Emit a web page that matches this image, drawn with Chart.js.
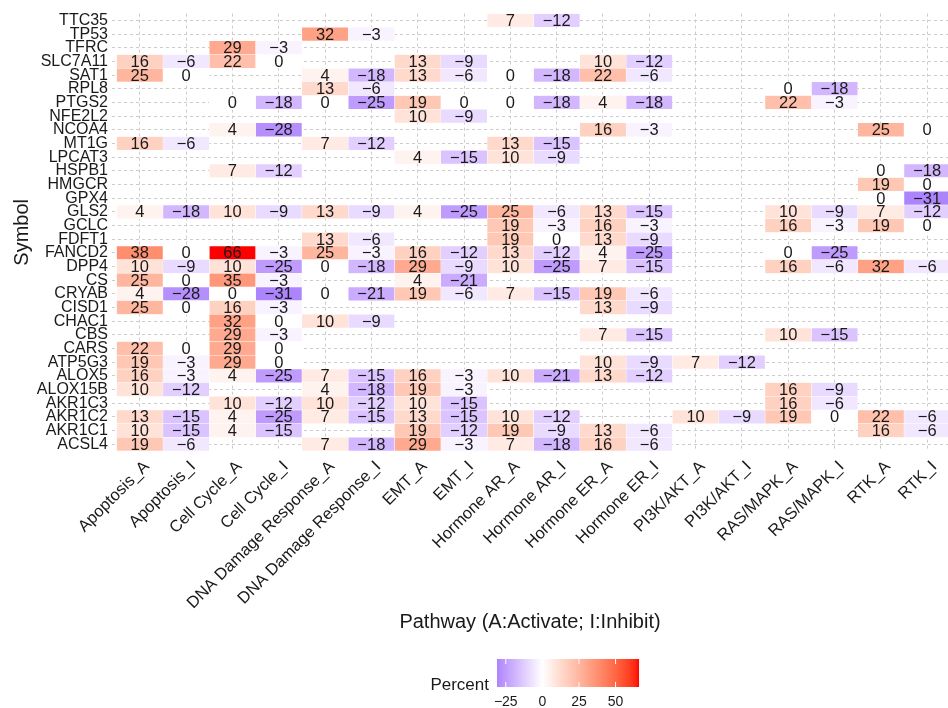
<!DOCTYPE html>
<html>
<head>
<meta charset="utf-8">
<script src="https://cdn.jsdelivr.net/npm/chart.js@4.4.1/dist/chart.umd.min.js"></script>
<style>
  html, body { margin: 0; padding: 0; background: #fff; }
  #wrap { width: 948px; height: 708px; }
</style>
</head>
<body>
<div id="wrap"><canvas id="heat"></canvas></div>
<script>
const pathways = [
  "Apoptosis_A", "Apoptosis_I", "Cell Cycle_A", "Cell Cycle_I",
  "DNA Damage Response_A", "DNA Damage Response_I", "EMT_A", "EMT_I",
  "Hormone AR_A", "Hormone AR_I", "Hormone ER_A", "Hormone ER_I",
  "PI3K/AKT_A", "PI3K/AKT_I", "RAS/MAPK_A", "RAS/MAPK_I", "RTK_A", "RTK_I"
];
const genes = [
  "TTC35", "TP53", "TFRC", "SLC7A11", "SAT1", "RPL8", "PTGS2", "NFE2L2",
  "NCOA4", "MT1G", "LPCAT3", "HSPB1", "HMGCR", "GPX4", "GLS2", "GCLC",
  "FDFT1", "FANCD2", "DPP4", "CS", "CRYAB", "CISD1", "CHAC1", "CBS",
  "CARS", "ATP5G3", "ALOX5", "ALOX15B", "AKR1C3", "AKR1C2", "AKR1C1", "ACSL4"
];

// percent per gene, one value per pathway column (_ = no tile)
const _ = null;
const TTC35   = [_, _, _, _, _, _, _, _, 7, -12, _, _, _, _, _, _, _, _];
const TP53    = [_, _, _, _, 32, -3, _, _, _, _, _, _, _, _, _, _, _, _];
const TFRC    = [_, _, 29, -3, _, _, _, _, _, _, _, _, _, _, _, _, _, _];
const SLC7A11 = [16, -6, 22, 0, _, _, 13, -9, _, _, 10, -12, _, _, _, _, _, _];
const SAT1    = [25, 0, _, _, 4, -18, 13, -6, 0, -18, 22, -6, _, _, _, _, _, _];
const RPL8    = [_, _, _, _, 13, -6, _, _, _, _, _, _, _, _, 0, -18, _, _];
const PTGS2   = [_, _, 0, -18, 0, -25, 19, 0, 0, -18, 4, -18, _, _, 22, -3, _, _];
const NFE2L2  = [_, _, _, _, _, _, 10, -9, _, _, _, _, _, _, _, _, _, _];
const NCOA4   = [_, _, 4, -28, _, _, _, _, _, _, 16, -3, _, _, _, _, 25, 0];
const MT1G    = [16, -6, _, _, 7, -12, _, _, 13, -15, _, _, _, _, _, _, _, _];
const LPCAT3  = [_, _, _, _, _, _, 4, -15, 10, -9, _, _, _, _, _, _, _, _];
const HSPB1   = [_, _, 7, -12, _, _, _, _, _, _, _, _, _, _, _, _, 0, -18];
const HMGCR   = [_, _, _, _, _, _, _, _, _, _, _, _, _, _, _, _, 19, 0];
const GPX4    = [_, _, _, _, _, _, _, _, _, _, _, _, _, _, _, _, 0, -31];
const GLS2    = [4, -18, 10, -9, 13, -9, 4, -25, 25, -6, 13, -15, _, _, 10, -9, 7, -12];
const GCLC    = [_, _, _, _, _, _, _, _, 19, -3, 16, -3, _, _, 16, -3, 19, 0];
const FDFT1   = [_, _, _, _, 13, -6, _, _, 19, 0, 13, -9, _, _, _, _, _, _];
const FANCD2  = [38, 0, 66, -3, 25, -3, 16, -12, 13, -12, 4, -25, _, _, 0, -25, _, _];
const DPP4    = [10, -9, 10, -25, 0, -18, 29, -9, 10, -25, 7, -15, _, _, 16, -6, 32, -6];
const CS      = [25, 0, 35, -3, _, _, 4, -21, _, _, _, _, _, _, _, _, _, _];
const CRYAB   = [4, -28, 0, -31, 0, -21, 19, -6, 7, -15, 19, -6, _, _, _, _, _, _];
const CISD1   = [25, 0, 16, -3, _, _, _, _, _, _, 13, -9, _, _, _, _, _, _];
const CHAC1   = [_, _, 32, 0, 10, -9, _, _, _, _, _, _, _, _, _, _, _, _];
const CBS     = [_, _, 29, -3, _, _, _, _, _, _, 7, -15, _, _, 10, -15, _, _];
const CARS    = [22, 0, 29, 0, _, _, _, _, _, _, _, _, _, _, _, _, _, _];
const ATP5G3  = [19, -3, 29, 0, _, _, _, _, _, _, 10, -9, 7, -12, _, _, _, _];
const ALOX5   = [16, -3, 4, -25, 7, -15, 16, -3, 10, -21, 13, -12, _, _, _, _, _, _];
const ALOX15B = [10, -12, _, _, 4, -18, 19, -3, _, _, _, _, _, _, 16, -9, _, _];
const AKR1C3  = [_, _, 10, -12, 10, -12, 10, -15, _, _, _, _, _, _, 16, -6, _, _];
const AKR1C2  = [13, -15, 4, -25, 7, -15, 13, -15, 10, -12, _, _, 10, -9, 19, 0, 22, -6];
const AKR1C1  = [10, -15, 4, -15, _, _, 19, -12, 19, -9, 13, -6, _, _, _, _, 16, -6];
const ACSL4   = [19, -6, _, _, 7, -18, 29, -3, 7, -18, 16, -6, _, _, _, _, _, _];

const geneValues = [
  TTC35, TP53, TFRC, SLC7A11, SAT1, RPL8, PTGS2, NFE2L2, NCOA4, MT1G, LPCAT3,
  HSPB1, HMGCR, GPX4, GLS2, GCLC, FDFT1, FANCD2, DPP4, CS, CRYAB, CISD1, CHAC1,
  CBS, CARS, ATP5G3, ALOX5, ALOX15B, AKR1C3, AKR1C2, AKR1C1, ACSL4
];

const legendTicks = [-25, 0, 25, 50];
const legendMin = -31;
const legendMax = 66;

/* colour: white mid, purple low, red high, mixed in Lab like ggplot */
function toLin(c) { c /= 255; return c <= 0.04045 ? c / 12.92 : Math.pow((c + 0.055) / 1.055, 2.4); }
function toSrgb(c) {
  c = Math.max(0, Math.min(1, c));
  return Math.round(255 * (c <= 0.0031308 ? 12.92 * c : 1.055 * Math.pow(c, 1 / 2.4) - 0.055));
}
function rgbToLab(rgb) {
  const r = toLin(rgb[0]), g = toLin(rgb[1]), b = toLin(rgb[2]);
  const X = (0.4124 * r + 0.3576 * g + 0.1805 * b) / 0.95047;
  const Y = 0.2126 * r + 0.7152 * g + 0.0722 * b;
  const Z = (0.0193 * r + 0.1192 * g + 0.9505 * b) / 1.08883;
  const f = t => t > 0.008856 ? Math.cbrt(t) : 7.787 * t + 16 / 116;
  return [116 * f(Y) - 16, 500 * (f(X) - f(Y)), 200 * (f(Y) - f(Z))];
}
function labToRgb(lab) {
  const fy = (lab[0] + 16) / 116, fx = fy + lab[1] / 500, fz = fy - lab[2] / 200;
  const inv = t => t > 0.206893 ? t * t * t : (t - 16 / 116) / 7.787;
  const X = inv(fx) * 0.95047, Y = inv(fy), Z = inv(fz) * 1.08883;
  const r = 3.2406 * X - 1.5372 * Y - 0.4986 * Z;
  const g = -0.9689 * X + 1.8758 * Y + 0.0415 * Z;
  const b = 0.0557 * X - 0.2040 * Y + 1.0570 * Z;
  return [toSrgb(r), toSrgb(g), toSrgb(b)];
}
const labWhite = rgbToLab([255, 255, 255]);
const labLow = rgbToLab([172, 132, 252]);   // colour at -31
const labHigh = rgbToLab([255, 0, 0]);      // colour at 66

function fillFor(v) {
  let end, t;
  if (v < 0) { end = labLow; t = Math.min(1, -v / -legendMin); }
  else { end = labHigh; t = Math.min(1, v / legendMax); }
  const lab = labWhite.map((w, k) => w + (end[k] - w) * t);
  const c = labToRgb(lab);
  return "rgb(" + c[0] + "," + c[1] + "," + c[2] + ")";
}

function fmt(v) { return v < 0 ? "\u2212" + Math.abs(v) : String(v); }

const FONT = '"Liberation Sans", Arial, sans-serif';
const INK = "#1a1a1a";

const datasets = pathways.map((p, j) => ({
  label: p,
  data: geneValues.map(r => (r[j] === null ? null : [j, j + 1])),
  values: geneValues.map(r => r[j]),
  backgroundColor: geneValues.map(r => (r[j] === null ? "rgba(0,0,0,0)" : fillFor(r[j]))),
  borderColor: "rgba(255,255,255,0.7)",
  borderWidth: 0.5,
  borderSkipped: false,
  grouped: false,
  barPercentage: 1,
  categoryPercentage: 1
}));

/* start plugins */
const whiteBg = {
  id: "whiteBg",
  beforeDraw(chart) {
    const ctx = chart.ctx;
    ctx.save();
    ctx.fillStyle = "#fff";
    ctx.fillRect(0, 0, chart.width, chart.height);
    ctx.restore();
  }
};

const cellLabels = {
  id: "cellLabels",
  afterDatasetsDraw(chart) {
    const ctx = chart.ctx;
    ctx.save();
    ctx.font = "16.5px " + FONT;
    ctx.fillStyle = INK;
    ctx.textAlign = "center";
    ctx.textBaseline = "middle";
    chart.data.datasets.forEach((ds, di) => {
      const meta = chart.getDatasetMeta(di);
      meta.data.forEach((el, i) => {
        const v = ds.values[i];
        if (v === null) return;
        const p = el.getProps(["x", "base", "y"], true);
        ctx.fillText(fmt(v), (p.x + p.base) / 2, p.y + 1);
      });
    });
    ctx.restore();
  }
};

const colourBar = {
  id: "colourBar",
  afterDraw(chart) {
    const ctx = chart.ctx;
    const x0 = 497, x1 = 639, y0 = 659, y1 = 687;
    ctx.save();
    const grad = ctx.createLinearGradient(x0, 0, x1, 0);
    for (let k = 0; k <= 60; k++) {
      grad.addColorStop(k / 60, fillFor(legendMin + (k / 60) * (legendMax - legendMin)));
    }
    ctx.fillStyle = grad;
    ctx.fillRect(x0, y0, x1 - x0, y1 - y0);

    ctx.strokeStyle = "#fff";
    ctx.lineWidth = 1;
    ctx.font = "14px " + FONT;
    ctx.fillStyle = INK;
    ctx.textAlign = "center";
    ctx.textBaseline = "middle";
    legendTicks.forEach(t => {
      const px = x0 + ((t - legendMin) / (legendMax - legendMin)) * (x1 - x0);
      ctx.beginPath();
      ctx.moveTo(px, y0); ctx.lineTo(px, y0 + 5);
      ctx.moveTo(px, y1 - 5); ctx.lineTo(px, y1);
      ctx.stroke();
      ctx.fillText(fmt(t), px, 702);
    });

    ctx.font = "17px " + FONT;
    ctx.textAlign = "right";
    ctx.fillText("Percent", 489, 685);
    ctx.restore();
  }
};
/* end plugins */

new Chart(document.getElementById("heat"), {
  type: "bar",
  data: { labels: genes, datasets: datasets },
  options: {
    indexAxis: "y",
    animation: false,
    responsive: true,
    maintainAspectRatio: false,
    layout: { padding: { left: 6, right: 0, top: 13, bottom: 70 } },
    plugins: { legend: { display: false }, tooltip: { enabled: false } },
    scales: {
      x: {
        type: "linear",
        min: -0.1,
        max: 17.95,
        afterBuildTicks: s => { s.ticks = pathways.map((p, i) => ({ value: i + 0.5 })); },
        afterFit: s => { s.height = 187; },
        ticks: {
          autoSkip: false,
          minRotation: 45,
          maxRotation: 45,
          padding: 6,
          labelOffset: 7,
          color: INK,
          font: { family: FONT, size: 16.5 },
          callback: (v, i) => pathways[i]
        },
        grid: { color: "#cccccc", lineWidth: 1, drawTicks: false },
        border: { display: false, dash: [3, 3] },
        title: {
          display: true,
          text: "Pathway (A:Activate; I:Inhibit)",
          color: INK,
          font: { family: FONT, size: 20 },
          padding: { top: 4, bottom: 4 }
        }
      },
      y: {
        type: "category",
        offset: true,
        afterFit: s => { s.width = 106; },
        ticks: { autoSkip: false, padding: 4, color: INK, font: { family: FONT, size: 16 } },
        grid: { offset: false, color: "#cccccc", lineWidth: 1, drawTicks: false },
        border: { display: false, dash: [3, 3] },
        title: {
          display: true,
          text: "Symbol",
          color: INK,
          font: { family: FONT, size: 20 },
          padding: { top: 4, bottom: 4 }
        }
      }
    }
  },
  plugins: [whiteBg, cellLabels, colourBar]
});
</script>
</body>
</html>
